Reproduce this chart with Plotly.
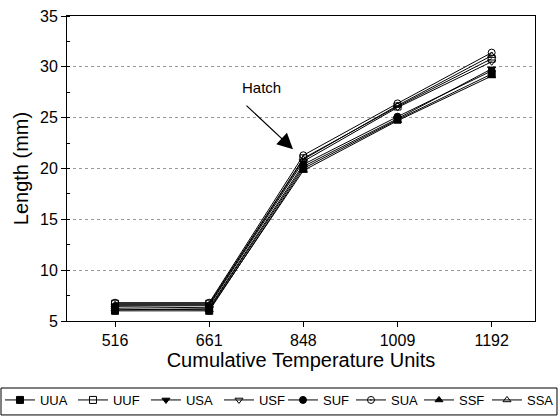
import plotly.graph_objects as go

categories = ["516", "661", "848", "1009", "1192"]
series_names = ["UUA", "UUF", "USA", "USF", "SUF", "SUA", "SSF", "SSA"]
uua = [6.0, 6.0, 20.0, 24.8, 29.3]
uuf = [6.7, 6.7, 21.0, 26.1, 30.8]
usa = [6.1, 6.2, 20.2, 24.9, 29.8]
usf = [6.5, 6.5, 20.7, 26.0, 30.5]
suf = [6.4, 6.3, 20.4, 25.1, 29.6]
sua = [6.8, 6.8, 21.3, 26.4, 31.4]
ssf = [6.2, 6.1, 19.8, 24.7, 29.1]
ssa = [6.6, 6.6, 20.9, 26.2, 31.1]
values = [uua, uuf, usa, usf, suf, sua, ssf, ssa]
symbols = ["square", "square-open", "triangle-down", "triangle-down-open",
           "circle", "circle-open-dot", "triangle-up", "triangle-up-open"]
legend_ids = ["legend", "legend", "legend", "legend",
              "legend2", "legend2", "legend2", "legend2"]

fig = go.Figure()
for name, vals, sym, lg in zip(series_names, values, symbols, legend_ids):
    fig.add_trace(go.Scatter(
        x=categories, y=vals, name=name, mode="lines+markers", legend=lg,
        line=dict(color="black", width=1),
        marker=dict(symbol=sym, size=7, color="black", line=dict(color="black", width=1)),
    ))

# arrow (no text)
fig.add_annotation(
    x=1.89, y=21.9, xref="x", yref="y", text="", showarrow=True,
    ax=-48, ay=-45, arrowhead=2, arrowsize=2.6, arrowwidth=1.2, arrowcolor="black",
)
# label
fig.add_annotation(
    x=1.56, y=28.0, xref="x", yref="y", text="Hatch", showarrow=False,
    font=dict(family="Liberation Sans, Arial", size=15, color="black"),
)

# legend frame
fig.add_shape(type="rect", xref="paper", yref="paper",
              x0=-0.141, x1=1.047, y0=-0.308, y1=-0.2197,
              line=dict(color="black", width=1), fillcolor="rgba(0,0,0,0)")

common_legend = dict(orientation="h", xanchor="left", yanchor="middle", y=-0.259,
                     borderwidth=0, bgcolor="rgba(0,0,0,0)", font=dict(size=13),
                     itemwidth=30, entrywidthmode="pixels",
                     tracegroupgap=0, itemclick=False, itemdoubleclick=False)

fig.update_layout(
    width=558, height=416,
    margin=dict(l=67, r=23, t=16, b=95, autoexpand=False),
    paper_bgcolor="white", plot_bgcolor="white",
    font=dict(family="Liberation Sans, Arial", color="black", size=14),
    showlegend=True,
    legend=dict(common_legend, x=-0.1432, entrywidth=28),
    legend2=dict(common_legend, x=0.4615, entrywidth=23),
)
fig.update_xaxes(
    type="category", range=[-0.51, 4.46],
    showline=True, linecolor="black", linewidth=1, mirror=True,
    ticks="outside", ticklen=5, tickcolor="black",
    showgrid=False,
    title=dict(text="Cumulative Temperature Units", font=dict(size=20), standoff=4),
    tickfont=dict(size=16),
)
fig.update_yaxes(
    range=[5, 35], dtick=5,
    showline=True, linecolor="black", linewidth=1, mirror=True,
    ticks="outside", ticklen=5, tickcolor="black",
    showgrid=True, gridcolor="#999999", griddash="dot", gridwidth=1,
    minor=dict(dtick=2.5, ticks="inside", ticklen=3, tickcolor="black", showgrid=False),
    title=dict(text="Length (mm)", font=dict(size=20), standoff=6),
    tickfont=dict(size=16),
)

fig.write_html("out.html")
